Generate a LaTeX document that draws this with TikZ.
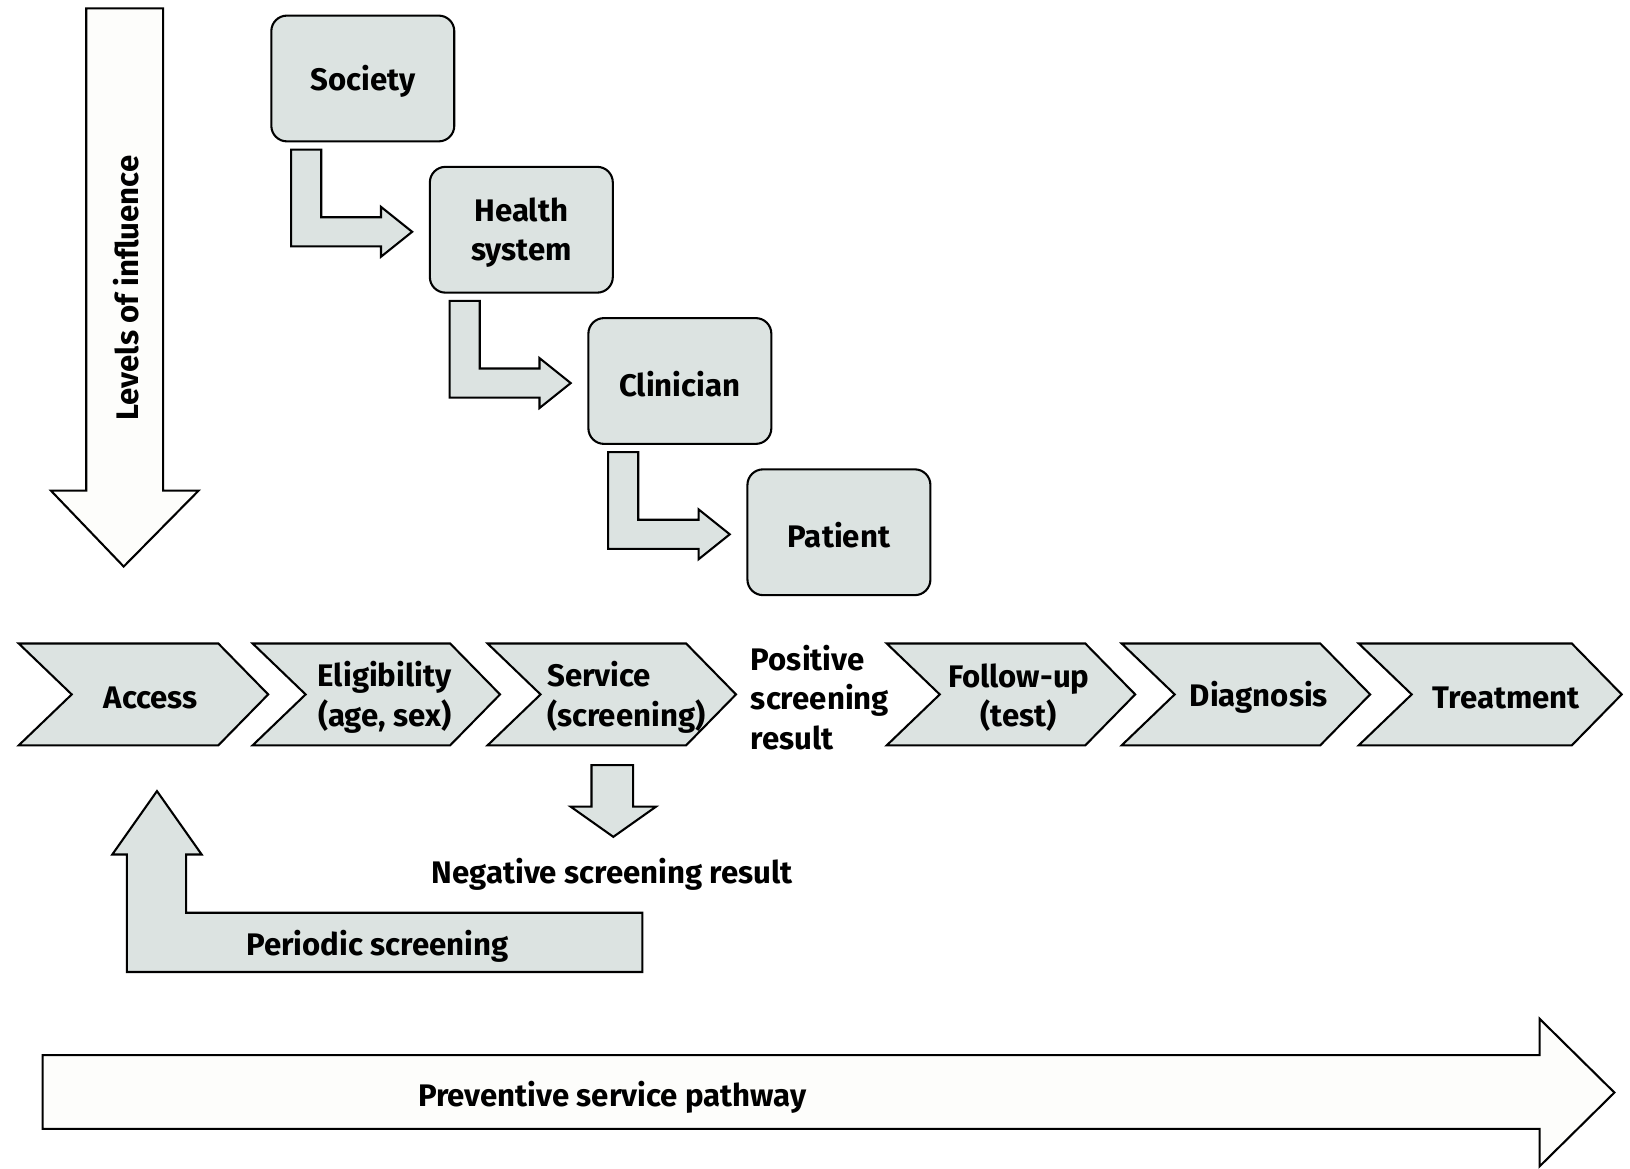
\documentclass[tikz,border=0pt]{standalone}
\usepackage{fontspec}
\setmainfont{Fira Sans}
\usetikzlibrary{calc}
\definecolor{boxgray}{RGB}{220,227,225}
\definecolor{offwhite}{RGB}{253,253,251}
\newcommand\bentarrow[2]{%
  \path ($(#1.south west)+(20,7)$) coordinate (p1) ($(#2.west)+(-46,2)$) coordinate (h);
  \draw[blk] (p1) -- ++(29,0) |- ($(h)+(0,-14)$) -- ++(0,-10) -- ($(h)+(30,0)$) -- ($(h)+(0,24)$) -- ++(0,-10) -| (p1) -- cycle;}
\newcommand\mychev[2]{%
  \draw[blk] (#1,619) -- (#2,619) -- ({#2+48},668) -- (#2,717) -- (#1,717) -- ({#1+51},668) -- cycle;}
\begin{document}
\begin{tikzpicture}[x=0.5pt,y=-0.5pt,
  blk/.style={draw=black, line width=1pt, fill=boxgray, line join=miter},
  wblk/.style={draw=black, line width=1pt, fill=offwhite, line join=miter},
  lvlbox/.style={draw=black, line width=1pt, rounded corners=7.5pt, fill=boxgray,
    minimum width=88pt, minimum height=60.5pt, inner sep=0pt},
  txt/.style={font=\bfseries\fontsize{15}{19}\selectfont, align=center, inner sep=0pt},
  lbl/.style={txt, yshift=-1.5pt}]
\useasboundingbox (0,0) rectangle (1568,1124);

% levels of influence arrow
\draw[wblk] (83,8) -- (157,8) -- (157,472) -- (191,472) -- (119,545) -- (49,472) -- (83,472) -- cycle;
\node[txt, rotate=90] (lvl) at (121,277) {Levels of influence};

% levels boxes
\node[lvlbox, label={[lbl]center:Society}] (soc) at (349,75.5) {};
\node[lvlbox, label={[lbl]center:{Health\\system}}] (hs) at (501.5,221) {};
\node[lvlbox, label={[lbl]center:Clinician}] (cl) at (654,366.5) {};
\node[lvlbox, label={[lbl]center:Patient}] (pat) at (807,512) {};
\bentarrow{soc}{hs}
\bentarrow{hs}{cl}
\bentarrow{cl}{pat}

% chevrons
\mychev{18}{210}
\mychev{243}{433}
\mychev{469}{660}
\mychev{853}{1044}
\mychev{1079}{1270}
\mychev{1307}{1512}
\node[lbl] (acc) at (145,668) {Access};
\node[lbl] (elig) at (370,668) {Eligibility\\(age, sex)};
\node[lbl, anchor=west, align=left] (serv) at (526,668) {Service\\(screening)};
\node[lbl, anchor=west, align=left] (pos) at (722,668) {Positive\\screening\\result};
\node[lbl] (fol) at (980,668) {Follow-up\\(test)};
\node[lbl] (diag) at (1211,668) {Diagnosis};
\node[lbl] (treat) at (1449,668) {Treatment};

% negative result arrow
\draw[blk] (569,736) -- (609,736) -- (609,776) -- (631,776) -- (590,805) -- (549,776) -- (569,776) -- cycle;
\node[lbl] (neg) at (589,838) {Negative screening result};

% periodic screening
\draw[blk] (122,935) -- (618,935) -- (618,878) -- (179,878) -- (179,822) -- (194,822) -- (151,761) -- (108,822) -- (122,822) -- cycle;
\node[lbl] (per) at (363,907) {Periodic screening};

% preventive service pathway
\draw[wblk] (41,1015) -- (1481,1015) -- (1481,980) -- (1553,1051) -- (1481,1122) -- (1481,1086) -- (41,1086) -- cycle;
\node[lbl] (prev) at (589,1053) {Preventive service pathway};
\end{tikzpicture}
\end{document}
